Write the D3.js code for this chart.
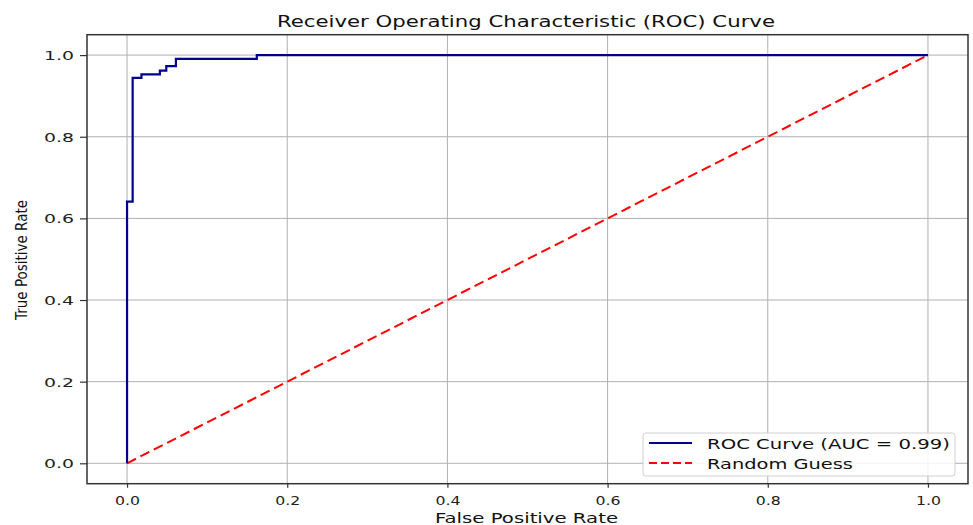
<!DOCTYPE html>
<html>
<head>
<meta charset="utf-8">
<script src="https://cdn.jsdelivr.net/npm/d3@7"></script>
<style>
  html, body { margin: 0; padding: 0; background: #fff; }
  svg { display: block; font-family: "DejaVu Sans", sans-serif; }
</style>
</head>
<body>
<svg id="chart" width="973" height="525"></svg>
<script>
// ROC curve points (false positive rate, true positive rate)
const rocFpr = [0.000, 0.000, 0.007, 0.007, 0.018, 0.018, 0.041, 0.041, 0.049, 0.049, 0.061, 0.061, 0.162, 0.162, 1.000];
const rocTpr = [0.000, 0.641, 0.641, 0.944, 0.944, 0.953, 0.953, 0.962, 0.962, 0.973, 0.973, 0.991, 0.991, 1.000, 1.000];
// Chance diagonal
const guessFpr = [0, 1];
const guessTpr = [0, 1];
const tickValues = [0.0, 0.2, 0.4, 0.6, 0.8, 1.0];
const aucValue = 0.99;

const svg = d3.select("#chart");
const x = d3.scaleLinear().domain([-0.05, 1.05]).range([87, 968]);
const y = d3.scaleLinear().domain([-0.05, 1.05]).range([483.7, 34.7]);

// grid
const grid = svg.append("g").attr("stroke", "#b0b0b0").attr("stroke-width", 1);
tickValues.forEach(t => {
  grid.append("line").attr("x1", x(t)).attr("x2", x(t)).attr("y1", y(-0.05)).attr("y2", y(1.05));
  grid.append("line").attr("y1", y(t)).attr("y2", y(t)).attr("x1", x(-0.05)).attr("x2", x(1.05));
});

// axes with ticks
const fmt = d3.format(".1f");
const xAxis = svg.append("g").attr("transform", `translate(0,${y(-0.05)})`)
  .call(d3.axisBottom(x).tickValues(tickValues).tickFormat(fmt).tickSize(4).tickPadding(8));
const yAxis = svg.append("g").attr("transform", `translate(${x(-0.05)},0)`)
  .call(d3.axisLeft(y).tickValues(tickValues).tickFormat(fmt).tickSize(7).tickPadding(6));
[xAxis, yAxis].forEach(a => {
  a.select(".domain").remove();
  a.selectAll(".tick line").attr("stroke", "#333").attr("stroke-width", 1.2);
  a.selectAll(".tick text").attr("fill", "#222").style("font-size", "12.5px")
    .style("font-family", "DejaVu Sans, sans-serif");
});
xAxis.selectAll(".tick text").attr("textLength", 25).attr("lengthAdjust", "spacingAndGlyphs");
yAxis.selectAll(".tick text").attr("textLength", 30).attr("lengthAdjust", "spacingAndGlyphs")
  .attr("dy", "0.35em");

// lines
const line = d3.line().x(d => x(d[0])).y(d => y(d[1]));
svg.append("path")
  .datum(guessFpr.map((v, i) => [v, guessTpr[i]]))
  .attr("d", line).attr("fill", "none")
  .attr("stroke", "#ff0000").attr("stroke-width", 2).attr("stroke-dasharray", "10,5");
svg.append("path")
  .datum(rocFpr.map((v, i) => [v, rocTpr[i]]))
  .attr("d", line).attr("fill", "none")
  .attr("stroke", "#00008b").attr("stroke-width", 2.2).attr("stroke-linejoin", "miter");

// frame
svg.append("rect")
  .attr("x", x(-0.05)).attr("y", y(1.05))
  .attr("width", x(1.05) - x(-0.05)).attr("height", y(-0.05) - y(1.05))
  .attr("fill", "none").attr("stroke", "#333").attr("stroke-width", 1.5);

// title and axis labels
svg.append("text").attr("x", 526).attr("y", 27).attr("text-anchor", "middle")
  .style("font-size", "16px").attr("fill", "#111")
  .attr("textLength", 498).attr("lengthAdjust", "spacingAndGlyphs")
  .text("Receiver Operating Characteristic (ROC) Curve");
svg.append("text").attr("x", 526.5).attr("y", 523).attr("text-anchor", "middle")
  .style("font-size", "14.5px").attr("fill", "#111")
  .attr("textLength", 183).attr("lengthAdjust", "spacingAndGlyphs")
  .text("False Positive Rate");
svg.append("text").attr("transform", "translate(27,260) rotate(-90)").attr("text-anchor", "middle")
  .style("font-size", "15px").attr("fill", "#111")
  .attr("textLength", 120).attr("lengthAdjust", "spacingAndGlyphs")
  .text("True Positive Rate");

// legend
const lg = svg.append("g");
lg.append("rect").attr("x", 643).attr("y", 433).attr("width", 312).attr("height", 43)
  .attr("rx", 3).attr("fill", "#fff").attr("fill-opacity", 0.85)
  .attr("stroke", "#d0d0d0").attr("stroke-width", 1);
const items = [
  { label: `ROC Curve (AUC = ${aucValue.toFixed(2)})`, color: "#00008b", dash: null, yy: 443, w: 243 },
  { label: "Random Guess", color: "#ff0000", dash: "8,4", yy: 463, w: 146 }
];
items.forEach(it => {
  lg.append("line").attr("x1", 649).attr("x2", 692).attr("y1", it.yy).attr("y2", it.yy)
    .attr("stroke", it.color).attr("stroke-width", 2).attr("stroke-dasharray", it.dash);
  lg.append("text").attr("x", 707).attr("y", it.yy + 6).style("font-size", "14.5px")
    .attr("fill", "#111").attr("textLength", it.w).attr("lengthAdjust", "spacingAndGlyphs")
    .text(it.label);
});
</script>
</body>
</html>
